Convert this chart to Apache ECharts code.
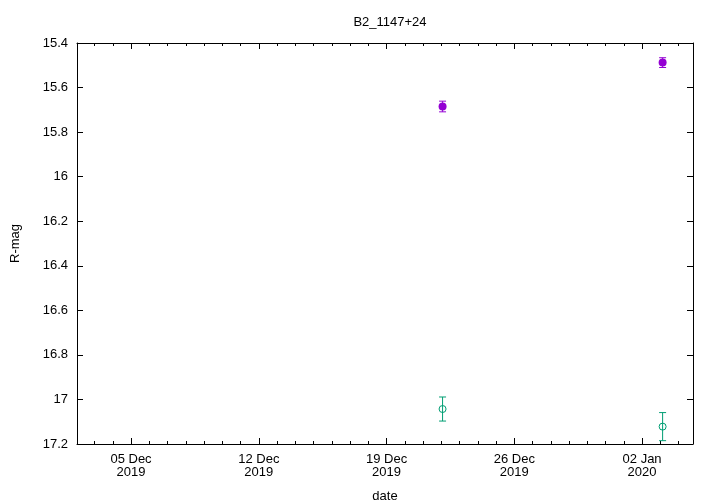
<!DOCTYPE html>
<html>
<head>
<meta charset="utf-8">
<script src="https://cdn.jsdelivr.net/npm/echarts@6/dist/echarts.min.js"></script>
<style>html,body{margin:0;padding:0;background:#fff}#c{width:720px;height:504px}</style>
</head>
<body>
<div id="c"></div>
<script>
// Data
const dates = ['2019-12-22T01:40:00Z', '2020-01-03T03:00:00Z'];
const magA = [15.685, 15.488];
const errA = [0.024, 0.022];
const magB = [17.043, 17.122];
const errB = [0.054, 0.063];
const xTickDates = ['2019-12-05', '2019-12-12', '2019-12-19', '2019-12-26', '2020-01-02'];
const yTicks = [15.4, 15.6, 15.8, 16, 16.2, 16.4, 16.6, 16.8, 17, 17.2];

const EPOCH = Date.UTC(2019, 10, 28);
const DAY = 86400000;
const toDay = d => (Date.parse(d + (d.length === 10 ? 'T00:00:00Z' : '')) - EPOCH) / DAY;
const MONTHS = ['Jan','Feb','Mar','Apr','May','Jun','Jul','Aug','Sep','Oct','Nov','Dec'];
function fmtDate(v) {
  const d = new Date(EPOCH + Math.round(v) * DAY);
  const dd = String(d.getUTCDate()).padStart(2, '0');
  return dd + ' ' + MONTHS[d.getUTCMonth()] + '\n' + d.getUTCFullYear();
}

const XMIN = 4.04, XMAX = 37.79;
const majorVals = xTickDates.map(toDay);
const minorVals = [];
for (let v = Math.ceil(XMIN); v <= XMAX; v++) minorVals.push(v);

const ptsA = dates.map((d, i) => [toDay(d), magA[i]]);
const ptsB = dates.map((d, i) => [toDay(d), magB[i]]);
const ebA = dates.map((d, i) => [toDay(d), magA[i] - errA[i], magA[i] + errA[i]]);
const ebB = dates.map((d, i) => [toDay(d), magB[i] - errB[i], magB[i] + errB[i]]);

function errRender(color) {
  return function (params, api) {
    const x = api.value(0);
    const p1 = api.coord([x, api.value(1)]);
    const p2 = api.coord([x, api.value(2)]);
    const w = 3.5;
    const st = { stroke: color, lineWidth: 1 };
    return {
      type: 'group',
      children: [
        { type: 'line', shape: { x1: p1[0], y1: p1[1], x2: p2[0], y2: p2[1] }, style: st },
        { type: 'line', shape: { x1: p1[0] - w, y1: p1[1], x2: p1[0] + w, y2: p1[1] }, style: st },
        { type: 'line', shape: { x1: p2[0] - w, y1: p2[1], x2: p2[0] + w, y2: p2[1] }, style: st }
      ]
    };
  };
}

const FONT = 'Liberation Sans, Arial, sans-serif';
const axisLineStyle = { show: true, lineStyle: { color: '#000', width: 1 } };
const tickStyle = { color: '#000', width: 1 };

function xAxisDef(pos, major, withLabels) {
  const a = {
    type: 'value', min: XMIN, max: XMAX, position: pos,
    axisLine: major ? axisLineStyle : { show: false },
    axisTick: {
      show: true, inside: true, length: major ? 6 : 3, lineStyle: tickStyle,
      customValues: major ? majorVals : minorVals
    },
    axisLabel: { show: false },
    splitLine: { show: false }
  };
  if (withLabels) {
    a.axisLabel = {
      show: true, fontFamily: FONT, fontSize: 13, color: '#000', margin: 9, lineHeight: 13,
      customValues: majorVals, formatter: v => fmtDate(v)
    };
    a.name = 'date';
    a.nameLocation = 'middle';
    a.nameGap = 46;
    a.nameTextStyle = { fontFamily: FONT, fontSize: 13, color: '#000' };
  }
  return a;
}

const chart = echarts.init(document.getElementById('c'), null, { renderer: 'canvas' });
chart.setOption({
  animation: false,
  backgroundColor: '#fff',
  title: {
    text: 'B2_1147+24', left: 385, top: 11, textAlign: 'center',
    textStyle: { fontFamily: FONT, fontSize: 13, fontWeight: 'normal', color: '#000' }
  },
  grid: { left: 77, right: 27, top: 43, bottom: 60, containLabel: false, outerBoundsMode: 'none' },
  xAxis: [
    xAxisDef('bottom', true, true),
    xAxisDef('top', true, false),
    xAxisDef('bottom', false, false),
    xAxisDef('top', false, false)
  ],
  yAxis: [
    {
      type: 'value', inverse: true, min: yTicks[0], max: yTicks[yTicks.length - 1], interval: 0.2,
      position: 'left',
      name: 'R-mag', nameLocation: 'middle', nameGap: 55, nameRotate: 90,
      nameTextStyle: { fontFamily: FONT, fontSize: 13, color: '#000' },
      axisLine: axisLineStyle,
      axisTick: { show: true, inside: true, length: 6, lineStyle: tickStyle },
      axisLabel: {
        fontFamily: FONT, fontSize: 13, color: '#000', margin: 9,
        formatter: v => String(Math.round(v * 10) / 10)
      },
      splitLine: { show: false }
    },
    {
      type: 'value', inverse: true, min: yTicks[0], max: yTicks[yTicks.length - 1], interval: 0.2,
      position: 'right',
      axisLine: axisLineStyle,
      axisTick: { show: true, inside: true, length: 6, lineStyle: tickStyle },
      axisLabel: { show: false },
      splitLine: { show: false }
    }
  ],
  series: [
    {
      type: 'custom', renderItem: errRender('#9400d3'), data: ebA,
      xAxisIndex: 0, yAxisIndex: 0, encode: { x: 0, y: [1, 2] }, z: 2
    },
    {
      type: 'scatter', data: ptsA, symbol: 'circle', symbolSize: 8,
      xAxisIndex: 0, yAxisIndex: 0,
      itemStyle: { color: '#9400d3', opacity: 1 }, z: 3
    },
    {
      type: 'custom', renderItem: errRender('#009e73'), data: ebB,
      xAxisIndex: 0, yAxisIndex: 0, encode: { x: 0, y: [1, 2] }, z: 2
    },
    {
      type: 'scatter', data: ptsB, symbol: 'circle', symbolSize: 7,
      xAxisIndex: 0, yAxisIndex: 0,
      itemStyle: { color: 'rgba(0,0,0,0)', borderColor: '#009e73', borderWidth: 1, opacity: 1 }, z: 3
    }
  ]
});
</script>
</body>
</html>
